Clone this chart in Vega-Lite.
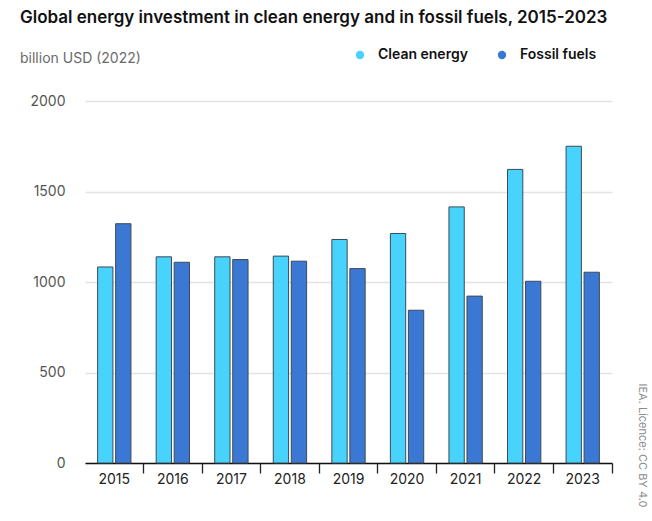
{
  "$schema": "https://vega.github.io/schema/vega-lite/v6.json",
  "width": 527,
  "height": 362,
  "autosize": {"type": "none"},
  "padding": {"left": 85, "top": 101, "right": 40, "bottom": 58},
  "background": "white",
  "config": {
    "view": {"stroke": null},
    "font": "Inter"
  },
  "title": {
    "text": "Global energy investment in clean energy and in fossil fuels, 2015-2023",
    "subtitle": "billion USD (2022)",
    "anchor": "start",
    "frame": "group",
    "dx": -65,
    "offset": -112,
    "font": "Inter",
    "fontSize": 17,
    "fontWeight": 600,
    "color": "#111111",
    "subtitleFont": "Inter",
    "subtitleFontSize": 14,
    "subtitleColor": "#6b6b6b",
    "subtitlePadding": 25
  },
  "data": {
    "values": [
      {"year": "2015", "type": "Clean energy", "value": 1083},
      {"year": "2015", "type": "Fossil fuels", "value": 1322},
      {"year": "2016", "type": "Clean energy", "value": 1139},
      {"year": "2016", "type": "Fossil fuels", "value": 1109},
      {"year": "2017", "type": "Clean energy", "value": 1139},
      {"year": "2017", "type": "Fossil fuels", "value": 1124},
      {"year": "2018", "type": "Clean energy", "value": 1143},
      {"year": "2018", "type": "Fossil fuels", "value": 1115},
      {"year": "2019", "type": "Clean energy", "value": 1235},
      {"year": "2019", "type": "Fossil fuels", "value": 1074},
      {"year": "2020", "type": "Clean energy", "value": 1268},
      {"year": "2020", "type": "Fossil fuels", "value": 844},
      {"year": "2021", "type": "Clean energy", "value": 1415},
      {"year": "2021", "type": "Fossil fuels", "value": 922},
      {"year": "2022", "type": "Clean energy", "value": 1622},
      {"year": "2022", "type": "Fossil fuels", "value": 1004},
      {"year": "2023", "type": "Clean energy", "value": 1750},
      {"year": "2023", "type": "Fossil fuels", "value": 1054}
    ]
  },
  "encoding": {
    "x": {
      "field": "year",
      "type": "ordinal",
      "scale": {"paddingInner": 0, "paddingOuter": 0}
    },
    "y": {
      "field": "value",
      "type": "quantitative",
      "scale": {"domain": [0, 2000], "nice": false}
    }
  },
  "layer": [
    {
      "mark": {"type": "bar", "stroke": "#3d4a57", "strokeWidth": 1},
      "encoding": {
        "x": {
          "field": "year",
          "type": "ordinal",
          "axis": {
            "title": null,
            "orient": "bottom",
            "labelAngle": 0,
            "labelFont": "Inter",
            "labelFontSize": 14,
            "labelColor": "#222222",
            "labelPadding": 9,
            "ticks": false,
            "domain": true,
            "domainColor": "#111111",
            "domainWidth": 1.3,
            "grid": false
          }
        },
        "y": {
          "field": "value",
          "type": "quantitative",
          "axis": {
            "title": null,
            "orient": "left",
            "values": [0, 500, 1000, 1500, 2000],
            "format": "d",
            "labelFont": "Inter",
            "labelFontSize": 14,
            "labelColor": "#555555",
            "labelPadding": 20,
            "ticks": false,
            "domain": false,
            "grid": true,
            "gridColor": "#e3e3e3",
            "gridWidth": 1.5
          }
        },
        "xOffset": {
          "field": "type",
          "type": "nominal",
          "scale": {"paddingInner": 0.15, "paddingOuter": 0.7}
        },
        "color": {
          "field": "type",
          "type": "nominal",
          "scale": {
            "domain": ["Clean energy", "Fossil fuels"],
            "range": ["#48d3fd", "#3b78d3"]
          },
          "legend": {
            "title": null,
            "orient": "none",
            "direction": "horizontal",
            "legendX": 268,
            "legendY": -53,
            "symbolType": "circle",
            "symbolSize": 70,
            "symbolStrokeWidth": 0,
            "labelFont": "Inter",
            "labelFontSize": 14,
            "labelFontWeight": 600,
            "labelColor": "#111111",
            "labelOffset": 11,
            "columnPadding": 27
          }
        }
      }
    },
    {
      "mark": {"type": "bar", "opacity": 0},
      "encoding": {
        "x": {
          "field": "year",
          "type": "ordinal",
          "axis": {
            "title": null,
            "orient": "bottom",
            "labels": false,
            "domain": false,
            "grid": false,
            "ticks": true,
            "bandPosition": 1,
            "tickSize": 10,
            "tickColor": "#222222",
            "tickWidth": 1.3
          }
        },
        "y": {
          "field": "value",
          "type": "quantitative",
          "axis": {
            "orient": "right",
            "title": "IEA. Licence: CC BY 4.0",
            "titleAngle": 90,
            "titleFont": "Inter",
            "titleFontSize": 11,
            "titleFontWeight": "normal",
            "titleColor": "#8a8a8a",
            "titleX": 24,
            "titleY": 344,
            "labels": false,
            "ticks": false,
            "domain": false,
            "grid": false
          }
        }
      }
    }
  ],
  "resolve": {"axis": {"x": "independent", "y": "independent"}}
}
